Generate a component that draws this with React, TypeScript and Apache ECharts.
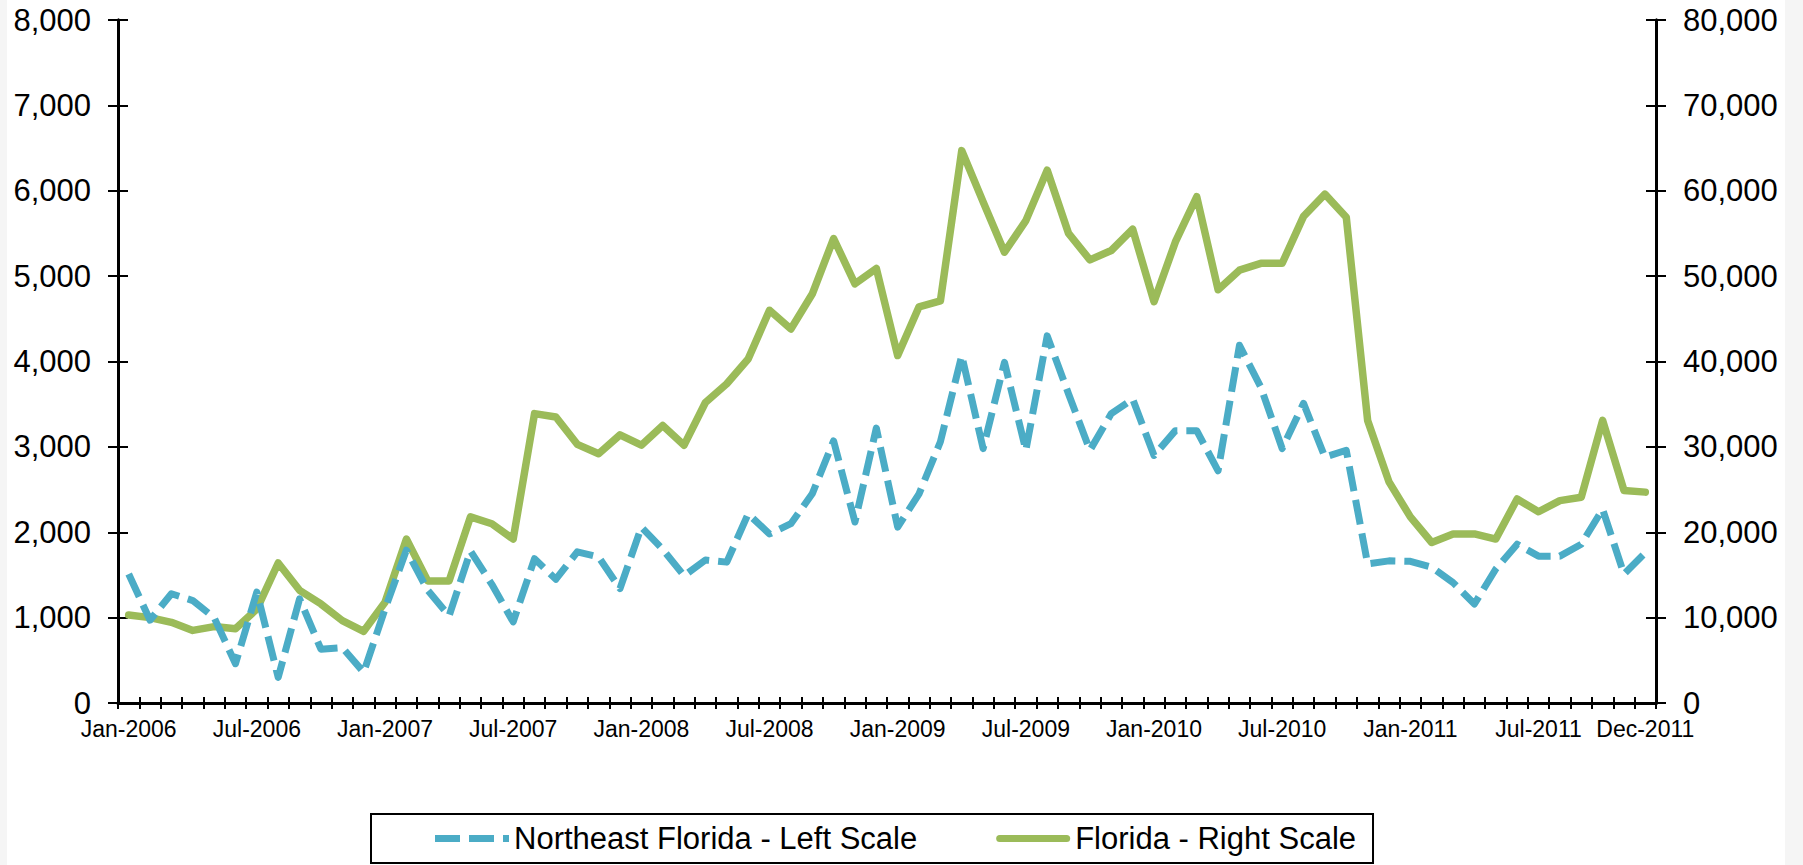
import React, { useEffect, useRef } from "react";
import * as echarts from "echarts";

const MONTHS = ["Jan", "Feb", "Mar", "Apr", "May", "Jun", "Jul", "Aug", "Sep", "Oct", "Nov", "Dec"];
const YEARS = [2006, 2007, 2008, 2009, 2010, 2011];
const categories: string[] = YEARS.flatMap((y) => MONTHS.map((m) => `${m}-${y}`));

// Northeast Florida - Left Scale
const northeastFlorida: number[] = [
  1510, 970, 1280, 1200, 1000, 460, 1300, 300, 1220, 630, 650, 360,
  1100, 1790, 1320, 1020, 1780, 1390, 950, 1690, 1450, 1770, 1710, 1340,
  2060, 1800, 1490, 1675, 1650, 2215, 1980, 2100, 2450, 3070, 2120, 3220,
  2060, 2450, 3060, 4070, 2980, 3990, 2960, 4300, 3620, 2960, 3390, 3560,
  2900, 3190, 3190, 2720, 4190, 3700, 2980, 3510, 2880, 2960, 1630, 1665,
  1660, 1590, 1410, 1160, 1570, 1860, 1720, 1720, 1860, 2270, 1510, 1760,
];

// Florida - Right Scale
const florida: number[] = [
  10300, 10000, 9450, 8500, 8950, 8700, 11000, 16400, 13200, 11600, 9650, 8400,
  11800, 19200, 14300, 14300, 21800, 21000, 19200, 33900, 33500, 30300, 29200, 31400,
  30200, 32500, 30200, 35200, 37400, 40300, 46000, 43800, 47900, 54400, 49100, 50900,
  40700, 46400, 47100, 64700, 58700, 52800, 56500, 62400, 55000, 51900, 53000, 55500,
  47000, 54000, 59300, 48400, 50700, 51500, 51500, 57000, 59600, 56900, 33100, 25900,
  21800, 18800, 19800, 19800, 19200, 23900, 22400, 23700, 24100, 33100, 24900, 24700,
];

const leftTicks = { min: 0, max: 8000, interval: 1000 };
const rightTicks = { min: 0, max: 80000, interval: 10000 };

const FONT = "'Liberation Sans', Arial, sans-serif";
const BLUE = "#4BACC6";
const GREEN = "#9BBB59";

const fmt = (v: number) => v.toLocaleString("en-US");

export default function App() {
  const ref = useRef<HTMLDivElement>(null);

  useEffect(() => {
    if (!ref.current) return;
    const chart = echarts.init(ref.current, undefined, { renderer: "svg" });

    const axisLine = { show: true, lineStyle: { color: "#000", width: 3 } };
    const lastIdx = categories.length - 1;
    const showLabel = (i: number) => i % 6 === 0 || i === lastIdx;

    const yBase = (pos: "left" | "right", t: any) => ({
      type: "value" as const,
      position: pos,
      min: t.min,
      max: t.max,
      interval: t.interval,
      splitLine: { show: false },
      axisLine,
    });

    chart.setOption({
      animation: false,
      backgroundColor: "#fff",
      graphic: [
        { type: "rect", left: 0, top: 0, shape: { width: 7, height: 865 }, style: { fill: "#f5f5f5" }, z: -10 },
        { type: "rect", left: 1785, top: 0, shape: { width: 18, height: 865 }, style: { fill: "#f5f5f5" }, z: -10 },
      ],
      grid: { left: 118, right: 147, top: 20, bottom: 162, containLabel: false },
      legend: {
        left: 371,
        top: 814,
        orient: "horizontal",
        padding: [7, 17, 7, 64],
        itemWidth: 74,
        itemHeight: 7,
        itemGap: 79,
        borderColor: "#000",
        borderWidth: 2,
        backgroundColor: "#fff",
        textStyle: { fontSize: 31, fontFamily: FONT, color: "#000", lineHeight: 35 },
        data: [
          {
            name: "Northeast Florida - Left Scale",
            icon: "path://M0,0H25V7H0Z M34,0H59V7H34Z M68,0H74V7H68Z",
            itemStyle: { color: BLUE },
          },
          {
            name: "Florida - Right Scale",
            icon: "path://M3.5,0H70.5A3.5,3.5 0 0 1 70.5,7H3.5A3.5,3.5 0 0 1 3.5,0Z",
            itemStyle: { color: GREEN },
          },
        ],
      },
      xAxis: [
        {
          type: "category",
          data: categories,
          boundaryGap: true,
          position: "bottom",
          axisLine,
          axisTick: { show: true, interval: 0, length: 6, inside: false, lineStyle: { color: "#000", width: 2 } },
          axisLabel: {
            interval: (i: number) => showLabel(i),
            fontSize: 23,
            fontFamily: FONT,
            color: "#000",
            margin: 14,
          },
        },
        {
          type: "category",
          data: categories,
          boundaryGap: true,
          position: "bottom",
          gridIndex: 0,
          axisLine: { show: false },
          axisTick: { show: true, interval: 0, length: 6, inside: true, lineStyle: { color: "#000", width: 2 } },
          axisLabel: { show: false },
        },
      ],
      yAxis: [
        {
          ...yBase("left", leftTicks),
          axisTick: { show: true, length: 10, inside: false, lineStyle: { color: "#000", width: 2 } },
          axisLabel: { fontSize: 31, fontFamily: FONT, color: "#000", margin: 27, formatter: (v: number) => fmt(v) },
        },
        {
          ...yBase("left", leftTicks),
          axisTick: { show: true, length: 10, inside: true, lineStyle: { color: "#000", width: 2 } },
          axisLabel: { show: false },
        },
        {
          ...yBase("right", rightTicks),
          axisTick: { show: true, length: 10, inside: false, lineStyle: { color: "#000", width: 2 } },
          axisLabel: { fontSize: 31, fontFamily: FONT, color: "#000", margin: 27, formatter: (v: number) => fmt(v) },
        },
        {
          ...yBase("right", rightTicks),
          axisTick: { show: true, length: 10, inside: true, lineStyle: { color: "#000", width: 2 } },
          axisLabel: { show: false },
        },
      ],
      series: [
        {
          name: "Northeast Florida - Left Scale",
          type: "line",
          xAxisIndex: 0,
          yAxisIndex: 0,
          data: northeastFlorida,
          symbol: "none",
          showSymbol: false,
          itemStyle: { color: BLUE },
          lineStyle: { color: BLUE, width: 7, type: [25, 9], cap: "butt", join: "round" },
          z: 3,
        },
        {
          name: "Florida - Right Scale",
          type: "line",
          xAxisIndex: 0,
          yAxisIndex: 2,
          data: florida,
          symbol: "none",
          showSymbol: false,
          itemStyle: { color: GREEN },
          lineStyle: { color: GREEN, width: 7.5, type: "solid", cap: "round", join: "round" },
          z: 2,
        },
      ],
    });

    return () => chart.dispose();
  }, []);

  return (
    <div
      ref={ref}
      style={{ position: "fixed", left: 0, top: 0, width: 1803, height: 865, background: "#fff" }}
    />
  );
}
